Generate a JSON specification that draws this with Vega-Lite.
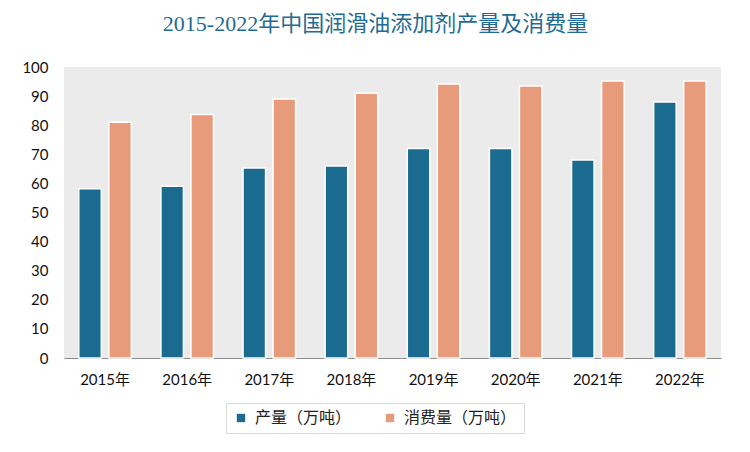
{
  "$schema": "https://vega.github.io/schema/vega-lite/v6.json",
  "width": 657,
  "height": 291,
  "autosize": {"type": "none"},
  "padding": {"left": 64, "top": 67, "right": 29, "bottom": 94},
  "background": "#ffffff",
  "title": {
    "text": "2015-2022年中国润滑油添加剂产量及消费量",
    "font": "Liberation Serif, Noto Sans CJK SC",
    "fontSize": 22,
    "fontWeight": "normal",
    "color": "#1f6b93",
    "anchor": "middle",
    "frame": "group",
    "dx": -17,
    "offset": 24
  },
  "data": {
    "values": [
      {"year": "2015年", "series": "产量（万吨）", "value": 58.2},
      {"year": "2016年", "series": "产量（万吨）", "value": 59.0},
      {"year": "2017年", "series": "产量（万吨）", "value": 65.3},
      {"year": "2018年", "series": "产量（万吨）", "value": 66.0},
      {"year": "2019年", "series": "产量（万吨）", "value": 72.0},
      {"year": "2020年", "series": "产量（万吨）", "value": 72.0},
      {"year": "2021年", "series": "产量（万吨）", "value": 68.0},
      {"year": "2022年", "series": "产量（万吨）", "value": 88.0},
      {"year": "2015年", "series": "消费量（万吨）", "value": 81.0},
      {"year": "2016年", "series": "消费量（万吨）", "value": 83.7},
      {"year": "2017年", "series": "消费量（万吨）", "value": 89.0},
      {"year": "2018年", "series": "消费量（万吨）", "value": 91.0},
      {"year": "2019年", "series": "消费量（万吨）", "value": 94.2},
      {"year": "2020年", "series": "消费量（万吨）", "value": 93.5},
      {"year": "2021年", "series": "消费量（万吨）", "value": 95.2},
      {"year": "2022年", "series": "消费量（万吨）", "value": 95.2}
    ]
  },
  "encoding": {
    "x": {
      "field": "year",
      "type": "nominal",
      "sort": null,
      "scale": {"paddingInner": 0.36, "paddingOuter": 0.18},
      "axis": {
        "title": null,
        "labelAngle": 0,
        "ticks": false,
        "domainColor": "#8c8c8c",
        "domainWidth": 1,
        "labelFont": "Lato, Noto Sans CJK SC",
        "labelFontSize": 15,
        "labelColor": "#111111",
        "labelPadding": 14
      }
    },
    "y": {
      "field": "value",
      "type": "quantitative",
      "scale": {"domain": [0, 100], "nice": false},
      "axis": {
        "title": null,
        "domain": false,
        "ticks": false,
        "grid": false,
        "values": [0, 10, 20, 30, 40, 50, 60, 70, 80, 90, 100],
        "labelFont": "Lato, Noto Sans CJK SC",
        "labelFontSize": 15,
        "labelColor": "#111111",
        "labelPadding": 16
      }
    },
    "xOffset": {
      "field": "series",
      "type": "nominal",
      "sort": ["产量（万吨）", "消费量（万吨）"],
      "scale": {"paddingInner": 0.25}
    }
  },
  "layer": [
    {
      "mark": {"type": "bar", "fill": "#7a7a7a", "opacity": 0.28, "dx": 3, "dy": -2, "cornerRadius": 1}
    },
    {
      "mark": {"type": "bar", "stroke": "#ffffff", "strokeWidth": 1.5},
      "encoding": {
        "color": {
          "field": "series",
          "type": "nominal",
          "scale": {"domain": ["产量（万吨）", "消费量（万吨）"], "range": ["#1b6a8f", "#e89b7a"]},
          "legend": {
            "title": null,
            "orient": "none",
            "legendX": 162,
            "legendY": 336,
            "direction": "horizontal",
            "symbolType": "square",
            "symbolSize": 70,
            "symbolStrokeWidth": 0,
            "labelFont": "Noto Sans CJK SC",
            "labelFontSize": 16,
            "labelColor": "#222222",
            "labelOffset": 6,
            "columnPadding": 30,
            "strokeColor": "#d9d9d9",
            "fillColor": "#ffffff",
            "padding": 7
          }
        }
      }
    }
  ],
  "config": {
    "view": {"fill": "#ebebeb", "stroke": null}
  }
}
